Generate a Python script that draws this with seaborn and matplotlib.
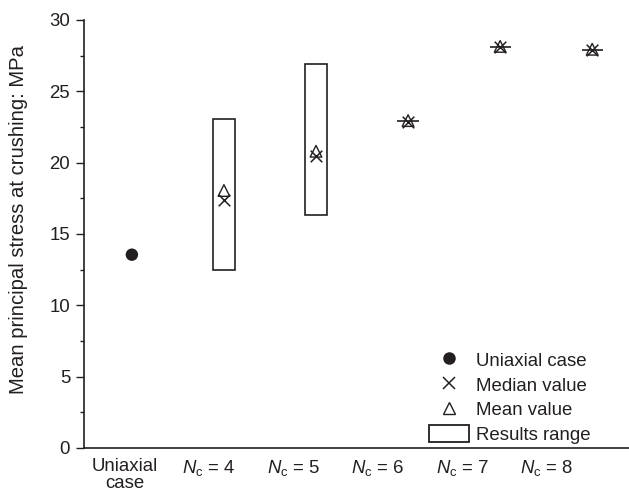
import numpy as np
import seaborn as sns
import matplotlib.pyplot as plt
import pandas as pd
from matplotlib.lines import Line2D
from matplotlib.patches import Patch

categories = ['Uniaxial\ncase', '$N$$_\\mathrm{c}$ = 4', '$N$$_\\mathrm{c}$ = 5',
              '$N$$_\\mathrm{c}$ = 6', '$N$$_\\mathrm{c}$ = 7', '$N$$_\\mathrm{c}$ = 8']
uniaxial = [13.55]
median_vals = [17.35, 20.5, 22.85, 28.1, 27.9]
mean_vals = [18.05, 20.8, 22.95, 28.15, 27.95]
range_low = [12.45, 16.3, 22.89, 28.12, 27.89]
range_high = [23.05, 26.9, 22.91, 28.14, 27.91]

sns.set_style('ticks')
plt.rcParams['font.family'] = ['Liberation Sans', 'DejaVu Sans']
plt.rcParams['mathtext.fontset'] = 'custom'
plt.rcParams['mathtext.rm'] = 'Liberation Sans'
plt.rcParams['mathtext.it'] = 'Liberation Sans:italic'
ink = '#231f20'
fs = 13.4

fig = plt.figure(figsize=(6.29, 4.95), dpi=100)
ax = fig.add_axes([84 / 629, 47 / 495, 545 / 629, 428 / 495])

pos = np.arange(1, len(categories))
df = pd.DataFrame({'pos': pos, 'median': median_vals, 'mean': mean_vals,
                   'low': range_low, 'high': range_high})

ax.bar(df['pos'], df['high'] - df['low'], bottom=df['low'], width=0.23,
       facecolor='none', edgecolor=ink, linewidth=1.2, zorder=2)
sns.scatterplot(x=[0], y=uniaxial, ax=ax, color=ink, s=80, marker='o',
                edgecolor='none', zorder=3)
sns.scatterplot(data=df, x='pos', y='median', ax=ax, marker='x', s=70,
                color=ink, linewidth=1.1, zorder=3)
sns.scatterplot(data=df, x='pos', y='mean', ax=ax, marker='^', s=70,
                facecolor='none', edgecolor=ink, linewidth=1.0, zorder=4)

ax.set_xlim(-0.52, 5.4)
ax.set_ylim(0, 30)
ax.set_yticks(np.arange(0, 31, 5))
ax.set_yticks(np.arange(2.5, 30, 5), minor=True)
ax.tick_params(axis='y', which='major', length=6, width=1, color=ink,
               labelsize=fs, labelcolor=ink, pad=4)
ax.tick_params(axis='y', which='minor', length=3, width=1, color=ink, left=True)
label_pos = -0.076 + 0.917 * np.arange(len(categories))
ax.set_xticks(label_pos)
ax.set_xticklabels(categories, linespacing=1.05)
ax.tick_params(axis='x', length=0, labelsize=fs, labelcolor=ink, pad=7)
ax.set_xlabel('')
ax.set_ylabel('Mean principal stress at crushing: MPa', fontsize=14.6, color=ink)
ax.yaxis.set_label_coords(-0.103, 0.535)
for s in ['top', 'right']:
    ax.spines[s].set_visible(False)
for s in ['left', 'bottom']:
    ax.spines[s].set_color(ink)
    ax.spines[s].set_linewidth(1.2)

handles = [
    Line2D([], [], marker='o', ls='none', color=ink, markersize=8),
    Line2D([], [], marker='x', ls='none', color=ink, markersize=8, mew=1.1),
    Line2D([], [], marker='^', ls='none', mfc='none', mec=ink, markersize=8),
    Patch(facecolor='none', edgecolor=ink, linewidth=1.3),
]
labels = ['Uniaxial case', 'Median value', 'Mean value', 'Results range']
fig.legend(handles, labels, loc='upper left', bbox_to_anchor=(429 / 629, 1 - 351 / 495),
           frameon=False, fontsize=fs, handlelength=2.15, handleheight=1.05,
           handletextpad=0.4, labelspacing=0.3, borderpad=0, borderaxespad=0,
           labelcolor=ink)

fig.savefig('out.png', dpi=100)
